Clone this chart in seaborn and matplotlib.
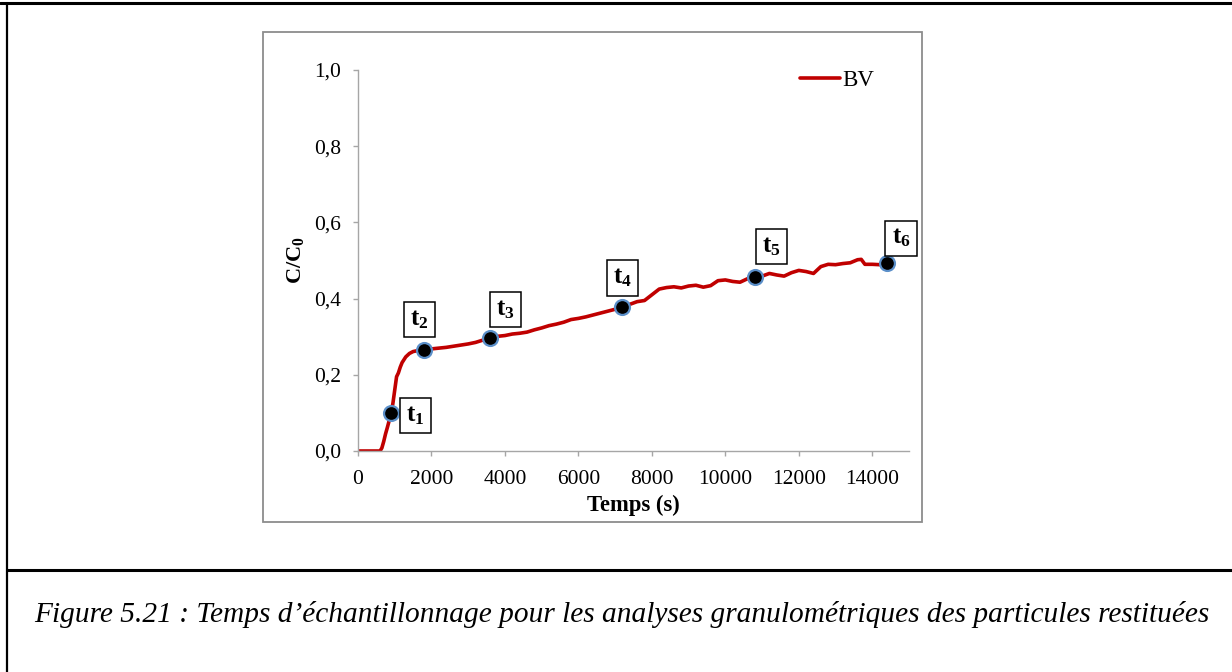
import matplotlib
matplotlib.use("Agg")
import matplotlib.pyplot as plt
from matplotlib.lines import Line2D
from matplotlib.patches import Rectangle
from matplotlib.ticker import FuncFormatter
import pandas as pd
import seaborn as sns

# Breakthrough curve C/C0 versus time (s)
time_s = [0, 300, 600, 650, 700, 750, 800, 850, 900, 950, 1000, 1050, 1100, 1150,
          1200, 1300, 1400, 1500, 1600, 1700, 1800, 2000, 2200, 2400, 2600, 2800,
          3000, 3200, 3400, 3600, 3800, 4000, 4200, 4400, 4600, 4800, 5000, 5200,
          5400, 5600, 5800, 6000, 6200, 6400, 6600, 6800, 7000, 7200, 7400, 7600,
          7800, 8000, 8200, 8400, 8600, 8800, 9000, 9200, 9400, 9600, 9800, 10000,
          10200, 10400, 10600, 10800, 11000, 11200, 11400, 11600, 11800, 12000,
          12200, 12400, 12600, 12800, 13000, 13200, 13400, 13600, 13700, 13800,
          14000, 14200, 14400]
c_ratio = [0.0, 0.0, 0.0, 0.008, 0.025, 0.045, 0.062, 0.080, 0.100, 0.125, 0.160,
           0.195, 0.205, 0.220, 0.232, 0.247, 0.256, 0.261, 0.263, 0.264, 0.266,
           0.268, 0.270, 0.272, 0.275, 0.278, 0.281, 0.285, 0.291, 0.297, 0.301,
           0.303, 0.307, 0.309, 0.312, 0.318, 0.323, 0.329, 0.333, 0.338, 0.345,
           0.348, 0.352, 0.357, 0.362, 0.367, 0.372, 0.378, 0.385, 0.392, 0.395,
           0.410, 0.425, 0.429, 0.431, 0.428, 0.433, 0.435, 0.430, 0.434, 0.447,
           0.449, 0.445, 0.443, 0.452, 0.457, 0.459, 0.466, 0.462, 0.459, 0.468,
           0.474, 0.471, 0.466, 0.484, 0.490, 0.489, 0.492, 0.494, 0.502, 0.503,
           0.490, 0.490, 0.489, 0.493]

# Sampling times for the grain-size analyses
sample_labels = ["1", "2", "3", "4", "5", "6"]
sample_time = [900, 1800, 3600, 7200, 10800, 14400]
sample_c = [0.100, 0.266, 0.297, 0.378, 0.457, 0.493]
# label box offsets from each sample point (pixels)
label_dx = [24, -5, 15, 0, 17, 14]
label_dy = [-3, 30, 28, 29, 30, 25]

x_ticks = [0, 2000, 4000, 6000, 8000, 10000, 12000, 14000]
y_ticks = [0.0, 0.2, 0.4, 0.6, 0.8, 1.0]

sns.set_theme(style="white")
plt.rcParams["font.family"] = ["Liberation Serif", "DejaVu Serif"]
plt.rcParams["mathtext.fontset"] = "custom"
plt.rcParams["mathtext.rm"] = "Liberation Serif"
plt.rcParams["mathtext.bf"] = "Liberation Serif:bold"
plt.rcParams["mathtext.it"] = "Liberation Serif:italic"
plt.rcParams["text.color"] = "black"
plt.rcParams["axes.labelcolor"] = "black"

W, H = 1232, 672
fig = plt.figure(figsize=(W / 100, H / 100), dpi=100)
fig.patch.set_facecolor("white")

# page frame: top rule, left rule, caption separator
fig.add_artist(Line2D([0, 1], [1 - 3 / H, 1 - 3 / H], color="black", lw=2.2,
                      transform=fig.transFigure))
fig.add_artist(Line2D([7 / W, 7 / W], [0, 1 - 3 / H], color="black", lw=1.6,
                      transform=fig.transFigure))
fig.add_artist(Line2D([7 / W, 1], [1 - 570 / H, 1 - 570 / H], color="black",
                      lw=2.2, transform=fig.transFigure))
# chart area border
fig.add_artist(Rectangle((263 / W, 1 - 522 / H), (922 - 263) / W, (522 - 32) / H,
                         fill=False, edgecolor="#8c8c8c", lw=1.3,
                         transform=fig.transFigure))

ax = fig.add_axes([358 / W, 1 - 451 / H, 551 / W, 381 / H])
ax.set_facecolor("none")

curve = pd.DataFrame({"t": time_s, "c": c_ratio})
sns.lineplot(data=curve, x="t", y="c", ax=ax, color="#c00000", lw=2.6,
             sort=False, estimator=None, label="BV")

pts = pd.DataFrame({"t": sample_time, "c": sample_c})
sns.scatterplot(data=pts, x="t", y="c", ax=ax, color="black", s=115,
                edgecolor="#5b8fc9", linewidth=1.6, zorder=5, legend=False)

for lab, t, c, dx, dy in zip(sample_labels, sample_time, sample_c, label_dx, label_dy):
    ax.annotate(r"$\mathbf{t_{" + lab + "}}$", xy=(t, c), xytext=(dx, dy),
                textcoords="offset pixels", ha="center", va="center",
                fontsize=18, color="black", zorder=6,
                bbox=dict(boxstyle="square,pad=0.25", fc="white", ec="black", lw=1.1))

ax.set_xlim(0, 15000)
ax.set_ylim(0, 1.0)
ax.set_xticks(x_ticks)
ax.set_yticks(y_ticks)
ax.yaxis.set_major_formatter(FuncFormatter(lambda v, p: f"{v:.1f}".replace(".", ",")))
ax.xaxis.set_major_formatter(FuncFormatter(lambda v, p: f"{int(v)}"))

for side in ["top", "right"]:
    ax.spines[side].set_visible(False)
for side in ["left", "bottom"]:
    ax.spines[side].set_color("#a6a6a6")
    ax.spines[side].set_linewidth(1.0)
ax.tick_params(axis="both", which="major", direction="out", length=3.6, width=1.0,
               color="#a6a6a6", labelsize=15.5, labelcolor="black",
               left=True, bottom=True)
ax.tick_params(axis="y", pad=8.5)
ax.tick_params(axis="x", pad=10)

ax.set_xlabel("Temps (s)", fontsize=16.3, fontweight="bold", labelpad=4)
ax.set_ylabel(r"$\mathbf{C/C_0}$", fontsize=16, labelpad=6)

leg = ax.legend(loc="center left", bbox_to_anchor=((800 - 358) / 551, (451 - 80) / 381),
                frameon=False, fontsize=16.5, handlelength=1.75, handletextpad=0.08,
                borderpad=0, borderaxespad=0)

caption = ("Figure 5.21 : Temps d\u2019\u00e9chantillonnage pour les analyses "
           "granulom\u00e9triques des particules restitu\u00e9es")
cap = fig.text(34 / W, 1 - 615 / H, caption, fontsize=16, style="italic",
               ha="left", va="center")
fig.canvas.draw()
w = cap.get_window_extent().width
cap.set_fontsize(16 * (1178 / w))

fig.savefig("out.png", dpi=100, facecolor="white")
